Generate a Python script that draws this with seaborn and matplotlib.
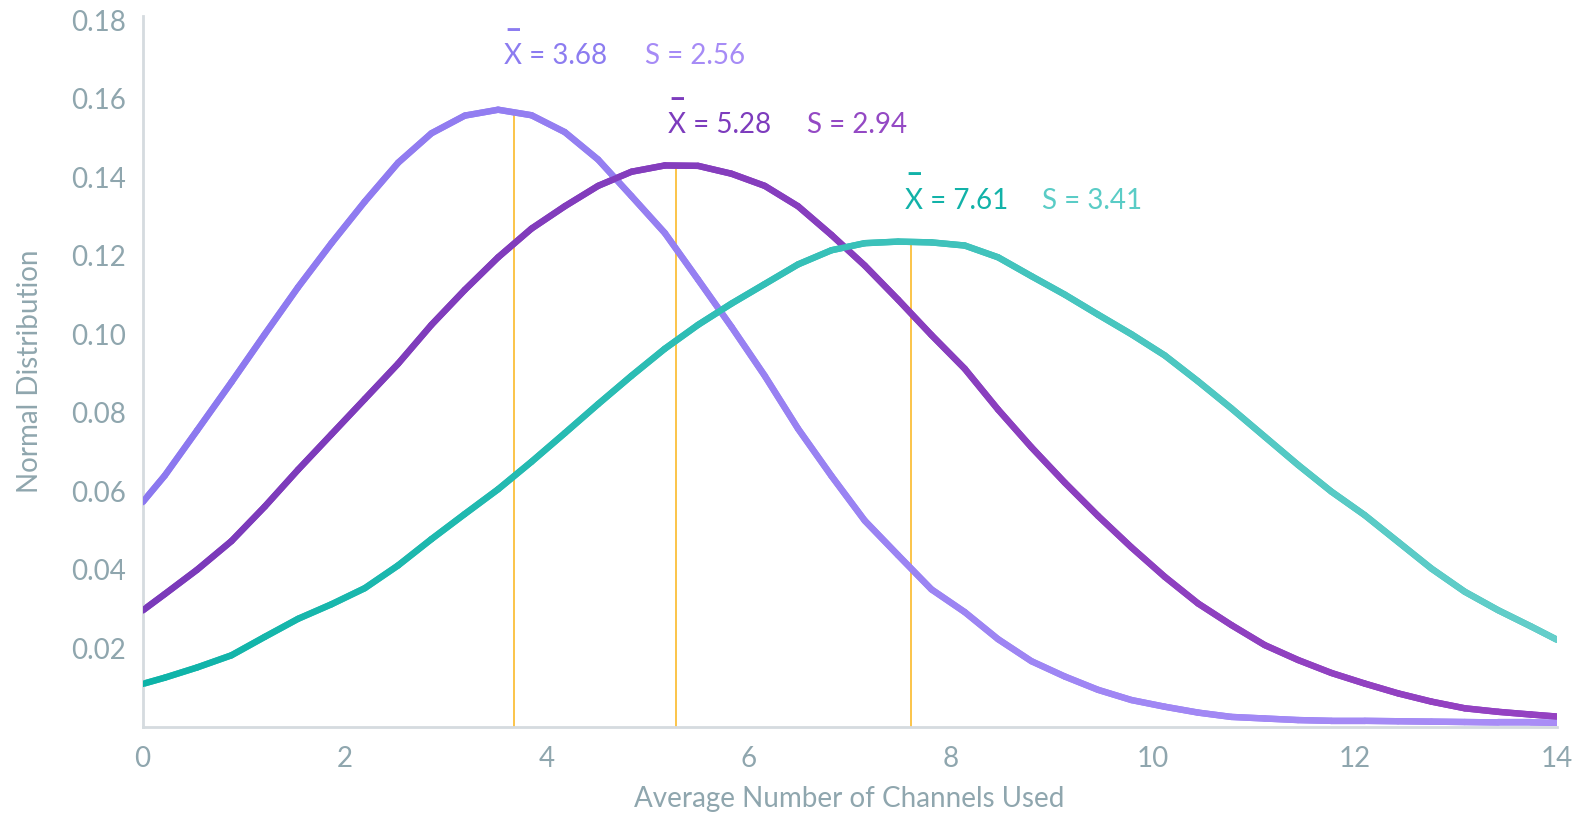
import numpy as np
import pandas as pd
import seaborn as sns
import matplotlib.pyplot as plt
from matplotlib.collections import LineCollection
from matplotlib.colors import LinearSegmentedColormap

# values (about every third of a channel)
channels = [0.0, 0.22, 0.54, 0.88, 1.21, 1.54, 1.87, 2.2, 2.53, 2.86, 3.19, 3.52, 3.85, 4.18,
            4.51, 4.84, 5.17, 5.5, 5.83, 6.16, 6.49, 6.82, 7.15, 7.48, 7.81, 8.14, 8.47, 8.8,
            9.13, 9.46, 9.79, 10.12, 10.45, 10.78, 11.11, 11.44, 11.77, 12.1, 12.43, 12.76,
            13.09, 13.42, 13.75, 14.0]
curve_a = [0.0572, 0.0640, 0.0755, 0.0878, 0.1000, 0.1120, 0.1232, 0.1338, 0.1437, 0.1512,
           0.1557, 0.1572, 0.1558, 0.1515, 0.1445, 0.1352, 0.1258, 0.1139, 0.1019, 0.0894,
           0.0759, 0.0639, 0.0525, 0.0437, 0.0350, 0.0292, 0.0223, 0.0167, 0.0128, 0.0094,
           0.0068, 0.0051, 0.0036, 0.0025, 0.0021, 0.0017, 0.0015, 0.0015, 0.0014, 0.0013,
           0.0012, 0.0011, 0.0011, 0.0010]
curve_b = [0.0296, 0.0338, 0.0400, 0.0473, 0.0561, 0.0655, 0.0745, 0.0835, 0.0925, 0.1024,
           0.1113, 0.1196, 0.1269, 0.1326, 0.1378, 0.1414, 0.1430, 0.1429, 0.1409, 0.1378,
           0.1326, 0.1253, 0.1175, 0.1088, 0.0998, 0.0912, 0.0808, 0.0712, 0.0622, 0.0537,
           0.0457, 0.0382, 0.0314, 0.0259, 0.0208, 0.0170, 0.0137, 0.0110, 0.0085, 0.0064,
           0.0047, 0.0038, 0.0031, 0.0026]
curve_c = [0.0109, 0.0125, 0.0151, 0.0182, 0.0229, 0.0275, 0.0312, 0.0353, 0.0411, 0.0478,
           0.0542, 0.0605, 0.0675, 0.0748, 0.0822, 0.0894, 0.0963, 0.1024, 0.1078, 0.1128,
           0.1178, 0.1214, 0.1232, 0.1236, 0.1234, 0.1226, 0.1196, 0.1148, 0.1101, 0.1050,
           0.1000, 0.0946, 0.0880, 0.0811, 0.0739, 0.0667, 0.0599, 0.0539, 0.0471, 0.0403,
           0.0344, 0.0297, 0.0255, 0.0222]

means = [3.68, 5.28, 7.61]
sds = [2.56, 2.94, 3.41]
mean_heights = [0.1565, 0.1430, 0.1237]

groups = ["A", "B", "C"]
main_colors = ["#9480F2", "#8239BD", "#2DBDB3"]
grad_colors = [("#8B78EF", "#A98DF6"), ("#7A3ABA", "#9542C2"), ("#0DB3A8", "#64CECA")]
label_colors = [("#8C7CF0", "#A68BF6"), ("#7D3CBD", "#9449C4"), ("#12B2A8", "#5ACCC6")]

df = pd.concat([
    pd.DataFrame({"x": channels, "y": vals, "group": g})
    for g, vals in zip(groups, [curve_a, curve_b, curve_c])
])

sns.set_theme(style="white")
plt.rcParams["font.family"] = ["Lato", "DejaVu Sans"]
grey = "#8FA6AE"
lw = 4.6

fig = plt.figure(figsize=(15.86, 8.16), dpi=100)
ax = fig.add_axes([0.0899, 0.1094, 0.8916, 0.8706])

# mean markers
ax.vlines(means, 0, mean_heights, color="#FBBF3C", lw=1.3, zorder=1)

sns.lineplot(data=df, x="x", y="y", hue="group", palette=main_colors,
             linewidth=lw, legend=False, ax=ax, zorder=2)
for ln in ax.lines:
    ln.set_solid_joinstyle("round")

# left-to-right colour gradient on each curve
for g, (c0, c1) in zip(groups, grad_colors):
    sub = df[df["group"] == g]
    pts = np.column_stack([sub["x"], sub["y"]])
    segs = np.stack([pts[:-1], pts[1:]], axis=1)
    cmap = LinearSegmentedColormap.from_list(g, [c0, c1])
    lc = LineCollection(segs, cmap=cmap, linewidths=lw, capstyle="round",
                        joinstyle="round", zorder=3)
    lc.set_array(np.linspace(0, 1, len(segs)))
    ax.add_collection(lc)

# annotations: "x-bar = mean   S = sd"
ann_pos = [(3.578, 4.974, 0.1708, 0.1776), (5.198, 6.578, 0.1532, 0.1600),
           (7.549, 8.905, 0.1340, 0.1407)]
for m, s, (xx, xs, yy, yb), (cx, cs) in zip(means, sds, ann_pos, label_colors):
    ax.text(xx, yy, f"X = {m:.2f}", color=cx, fontsize=20,
            ha="left", va="center")
    ax.text(xs, yy, f"S = {s:.2f}", color=cs, fontsize=20,
            ha="left", va="center")
    ax.text(xx + 0.005, yb, "–", color=cx, fontsize=22, fontweight="bold",
            ha="left", va="center")

ax.set_xlim(0, 14)
ax.set_ylim(0, 0.181)
ax.set_xticks(range(0, 15, 2))
ax.set_yticks([0.02, 0.04, 0.06, 0.08, 0.10, 0.12, 0.14, 0.16, 0.18])
ax.set_yticklabels([f"{v:.2f}" for v in ax.get_yticks()])
ax.tick_params(length=0, labelsize=20, labelcolor=grey)
ax.tick_params(axis="y", pad=12)
ax.tick_params(axis="x", pad=14)

ax.set_xlabel("Average Number of Channels Used", fontsize=20, color=grey, labelpad=10)
ax.set_ylabel("Normal Distribution", fontsize=20, color=grey, labelpad=20)

sns.despine(ax=ax)
for side in ["left", "bottom"]:
    ax.spines[side].set_color("#D5DBDF")
    ax.spines[side].set_linewidth(2)

fig.savefig("out.png", dpi=100)
